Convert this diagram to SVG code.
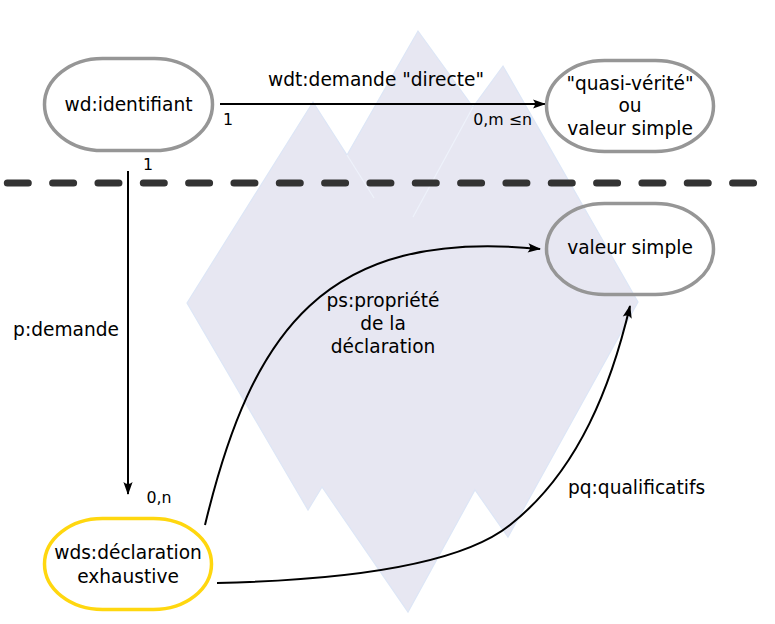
<svg xmlns="http://www.w3.org/2000/svg" width="775" height="624" viewBox="0 0 775 624">
  <style>
    .bg { fill: #e7e7f2; stroke: #dde6f6; stroke-width: 1.2; stroke-linejoin: miter; }
    .seam { stroke: #eef2fb; stroke-width: 1.2; fill: none; }
    .node { fill: none; stroke: #969696; stroke-width: 3.5; }
    .node-main { fill: none; stroke: #ffd70f; stroke-width: 3.5; }
    .edge { fill: none; stroke: #000; stroke-width: 2; }
    .sep { fill: none; stroke: #333; stroke-width: 7; stroke-linecap: round; stroke-dasharray: 21 24.33; }
    text { font-family: "DejaVu Sans", Verdana, sans-serif; fill: #000; }
    .lbl { font-size: 18.6px; }
    .sm { font-size: 15.8px; }
    .c { text-anchor: middle; }
  </style>
  <defs>
    <marker id="arrow" markerUnits="userSpaceOnUse" markerWidth="16" markerHeight="12" viewBox="-14 -6 16 12" refX="0" refY="0" orient="auto" overflow="visible">
      <path d="M1,0 L-12,-4.6 Q-8,0 -12,4.6 Z" fill="#000"/>
    </marker>
  </defs>

  <g id="background">
    <polygon class="bg" points="187,303 313,102 347,155 418,31 473,107 503,66 638,302 508,537 475,490 408,612 322,487 308,510"/>
    <path class="seam" d="M347,155 L374,198 M473,107 L413,217"/>
  </g>

  <g id="separator">
    <path class="sep" d="M7.3,183 L757,183"/>
  </g>

  <g id="connectors">
    <path class="edge" d="M220,104 L545,104" marker-end="url(#arrow)"/>
    <path class="edge" d="M128,171 L128,494" marker-end="url(#arrow)"/>
    <path class="edge" d="M205,525 C252,330 325,228 540,249" marker-end="url(#arrow)"/>
    <path class="edge" d="M217,583 C350,580 460,565 510,525 C580,470 612,382 630,306" marker-end="url(#arrow)"/>

    <text class="lbl c" x="376" y="86">wdt:demande "directe"</text>
    <text class="sm" x="223" y="125">1</text>
    <text class="sm" x="532" y="125" text-anchor="end">0,m ≤n</text>
    <text class="sm" x="143" y="170">1</text>
    <text class="lbl c" x="66" y="336">p:demande</text>
    <text class="sm c" x="159" y="503">0,n</text>
    <text class="lbl c" x="383" y="307">ps:propriété</text>
    <text class="lbl c" x="383" y="330">de la</text>
    <text class="lbl c" x="383" y="353">déclaration</text>
    <text class="lbl" x="568" y="494">pq:qualificatifs</text>
  </g>

  <g id="node-identifiant">
    <rect class="node" x="44.5" y="58.5" width="168" height="92" rx="58" ry="46"/>
    <text class="lbl c" x="128.5" y="111">wd:identifiant</text>
  </g>

  <g id="node-quasi-verite">
    <rect class="node" x="546.5" y="60.5" width="167" height="91" rx="58" ry="45.5"/>
    <text class="lbl c" x="630" y="90">"quasi-vérité"</text>
    <text class="lbl c" x="630" y="112">ou</text>
    <text class="lbl c" x="630" y="135">valeur simple</text>
  </g>

  <g id="node-valeur-simple">
    <rect class="node" x="546.5" y="203.5" width="167" height="91" rx="58" ry="45.5"/>
    <text class="lbl c" x="630" y="254">valeur simple</text>
  </g>

  <g id="node-declaration">
    <rect class="node-main" x="44.5" y="518.5" width="167" height="91" rx="58" ry="45.5"/>
    <text class="lbl c" x="128" y="559">wds:déclaration</text>
    <text class="lbl c" x="128" y="583">exhaustive</text>
  </g>
</svg>
